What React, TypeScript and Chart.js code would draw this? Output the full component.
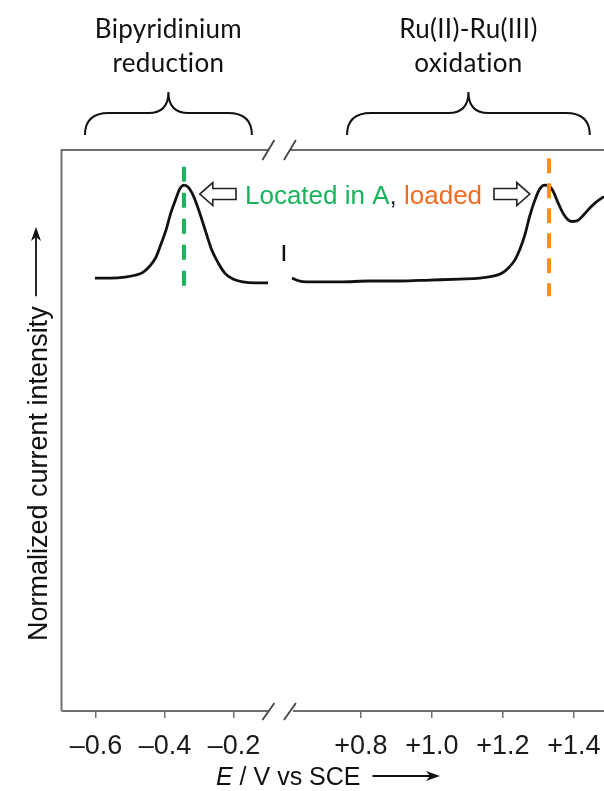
import React, { useEffect, useRef } from 'react';
import { Chart, registerables } from 'chart.js';

Chart.register(...registerables);

// ---------- data ----------
// Bipyridinium reduction wave (left axis segment)
const reductionE = [-0.603, -0.559, -0.516, -0.487, -0.464, -0.443, -0.426, -0.412, -0.397, -0.383, -0.368, -0.357, -0.345, -0.333, -0.322, -0.307, -0.293, -0.278, -0.264, -0.246, -0.226, -0.203, -0.174, -0.139, -0.101];
const reductionI = [0.03, 0.03, 0.04, 0.06, 0.09, 0.16, 0.25, 0.38, 0.53, 0.71, 0.86, 0.96, 1.0, 0.98, 0.92, 0.79, 0.64, 0.47, 0.32, 0.19, 0.08, 0.02, -0.01, -0.02, -0.02];

// Ru(II)-Ru(III) oxidation wave (right axis segment)
const oxidationE = [0.606, 0.628, 0.670, 0.741, 0.825, 0.910, 0.994, 1.079, 1.135, 1.172, 1.197, 1.217, 1.234, 1.248, 1.262, 1.276, 1.290, 1.304, 1.318, 1.330, 1.341, 1.355, 1.369, 1.383, 1.397, 1.411, 1.428, 1.445, 1.462, 1.485];
const oxidationI = [0.03, 0, -0.01, -0.01, 0, 0, 0.01, 0.02, 0.03, 0.05, 0.08, 0.14, 0.22, 0.33, 0.48, 0.68, 0.84, 0.96, 1.0, 0.99, 0.94, 0.82, 0.71, 0.64, 0.62, 0.63, 0.69, 0.76, 0.82, 0.88];

// marker lines
const peakAE = -0.345;
const peakAI = [1.19, -0.06];
const peakLoadedE = 1.33;
const peakLoadedI = [1.28, -0.16];
const scaleBarE = 0.583;
const scaleBarI = [0.375, 0.208];

// axis
const segmentLeft = [-0.7, -0.1];
const segmentRight = [0.6, 1.485];
const tickValues = [-0.6, -0.4, -0.2, 0.8, 1.0, 1.2, 1.4];
const tickLabels = ['–0.6', '–0.4', '–0.2', '+0.8', '+1.0', '+1.2', '+1.4'];
const yRange = [-4.48, 1.365];

// annotations (data units)
const bracketLeft = { from: -0.632, to: -0.148, lines: ['Bipyridinium', 'reduction'] };
const bracketRight = { from: 0.761, to: 1.445, lines: ['Ru(II)-Ru(III)', 'oxidation'] };
const arrowLeft = { tail: -0.194, tip: -0.299, i: 0.906 };
const arrowRight = { tail: 1.175, tip: 1.276, i: 0.906 };
const labelStartE = -0.168;
const labelParts = [
  { text: 'Located in A', color: '#17B45C' },
  { text: ', ', color: '#222222' },
  { text: 'loaded', color: '#F26A1F' },
];

// broken-axis transform: E (V) -> axis units
const RIGHT_SCALE = 1.029;
const RIGHT_OFFSET = 0.1681;
function toU(E: number): number {
  return E < 0.25 ? E : RIGHT_OFFSET + RIGHT_SCALE * (E - 0.8);
}

const pts = (es: number[], is: number[]) => es.map((e, k) => ({ x: toU(e), y: is[k] }));

const SANS = '"Liberation Sans", Arial, sans-serif';

function blockArrow(ctx: CanvasRenderingContext2D, tailX: number, tipX: number, cy: number) {
  const dir = tipX > tailX ? 1 : -1;
  const headLen = 13;
  const headHalf = 11.5;
  const shaftHalf = 5.5;
  const baseX = tipX - dir * headLen;
  ctx.beginPath();
  ctx.moveTo(tailX, cy - shaftHalf);
  ctx.lineTo(baseX, cy - shaftHalf);
  ctx.lineTo(baseX, cy - headHalf);
  ctx.lineTo(tipX, cy);
  ctx.lineTo(baseX, cy + headHalf);
  ctx.lineTo(baseX, cy + shaftHalf);
  ctx.lineTo(tailX, cy + shaftHalf);
  ctx.closePath();
  ctx.fillStyle = '#ffffff';
  ctx.fill();
  ctx.lineWidth = 1.6;
  ctx.strokeStyle = '#222';
  ctx.stroke();
}

function brace(ctx: CanvasRenderingContext2D, x0: number, x1: number, yb: number, ym: number, yt: number) {
  const xc = (x0 + x1) / 2;
  const r = 24;
  const t = 20;
  ctx.beginPath();
  ctx.moveTo(x0, yb);
  ctx.quadraticCurveTo(x0, ym, x0 + r, ym);
  ctx.lineTo(xc - t, ym);
  ctx.quadraticCurveTo(xc, ym, xc, yt);
  ctx.quadraticCurveTo(xc, ym, xc + t, ym);
  ctx.lineTo(x1 - r, ym);
  ctx.quadraticCurveTo(x1, ym, x1, yb);
  ctx.lineWidth = 2;
  ctx.strokeStyle = '#111';
  ctx.stroke();
}

function longArrow(ctx: CanvasRenderingContext2D, x0: number, x1: number, y: number) {
  ctx.beginPath();
  ctx.moveTo(x0, y);
  ctx.lineTo(x1 - 8, y);
  ctx.lineWidth = 1.8;
  ctx.strokeStyle = '#111';
  ctx.stroke();
  ctx.beginPath();
  ctx.moveTo(x1, y);
  ctx.lineTo(x1 - 14, y - 5);
  ctx.lineTo(x1 - 10, y);
  ctx.lineTo(x1 - 14, y + 5);
  ctx.closePath();
  ctx.fillStyle = '#111';
  ctx.fill();
}

const decorations = {
  id: 'decorations',
  beforeDatasetsDraw(chart: any) {
    const { ctx, chartArea } = chart;
    const xs = chart.scales.x;
    const px = (e: number) => xs.getPixelForValue(toU(e));
    const L = chartArea.left;
    const T = chartArea.top;
    const B = chartArea.bottom;
    const R = chartArea.right + 4;
    const b1 = px(segmentLeft[1]);
    const b2 = px(segmentRight[0]);
    ctx.save();
    ctx.strokeStyle = '#6e6e6e';
    ctx.lineWidth = 2;
    ctx.lineCap = 'butt';
    ctx.beginPath();
    ctx.moveTo(L, B);
    ctx.lineTo(L, T);
    ctx.lineTo(b1, T);
    ctx.moveTo(b2, T);
    ctx.lineTo(R, T);
    ctx.moveTo(L, B);
    ctx.lineTo(b1, B);
    ctx.moveTo(b2 + 3, B);
    ctx.lineTo(R, B);
    ctx.stroke();
    ctx.lineWidth = 1.8;
    ctx.strokeStyle = '#444';
    ctx.beginPath();
    for (const bx of [b1, b2]) {
      ctx.moveTo(bx - 6, T + 10);
      ctx.lineTo(bx + 6, T - 10);
      ctx.moveTo(bx - 6, B + 9);
      ctx.lineTo(bx + 6, B - 8);
    }
    ctx.stroke();
    ctx.restore();
  },
  afterDraw(chart: any) {
    const { ctx, chartArea } = chart;
    const xs = chart.scales.x;
    const ys = chart.scales.y;
    const px = (e: number) => xs.getPixelForValue(toU(e));
    const py = (i: number) => ys.getPixelForValue(i);
    ctx.save();

    // braces + group labels
    for (const br of [bracketLeft, bracketRight]) {
      const x0 = px(br.from);
      const x1 = px(br.to);
      brace(ctx, x0, x1, chartArea.top - 15, chartArea.top - 37, chartArea.top - 58);
      ctx.fillStyle = '#111';
      ctx.font = '26px Lato, "Open Sans", sans-serif';
      (ctx as any).letterSpacing = '0.3px';
      ctx.textAlign = 'center';
      ctx.textBaseline = 'alphabetic';
      ctx.fillText(br.lines[0], (x0 + x1) / 2, 38);
      ctx.fillText(br.lines[1], (x0 + x1) / 2, 72);
      (ctx as any).letterSpacing = '0px';
    }

    // hollow arrows
    blockArrow(ctx, px(arrowLeft.tail), px(arrowLeft.tip), py(arrowLeft.i));
    blockArrow(ctx, px(arrowRight.tail), px(arrowRight.tip), py(arrowRight.i));

    // coloured label
    ctx.font = '26px ' + SANS;
    ctx.textAlign = 'left';
    ctx.textBaseline = 'middle';
    let x = px(labelStartE);
    const y = py(arrowLeft.i) + 3;
    for (const part of labelParts) {
      ctx.fillStyle = part.color;
      ctx.fillText(part.text, x, y);
      x += ctx.measureText(part.text).width;
    }

    // x-axis title
    ctx.textBaseline = 'alphabetic';
    ctx.fillStyle = '#111';
    let tx = 216;
    const ty = 785;
    ctx.font = 'italic 25px ' + SANS;
    ctx.fillText('E', tx, ty);
    tx += ctx.measureText('E').width;
    ctx.font = '25px ' + SANS;
    const rest = ' / V vs SCE';
    ctx.fillText(rest, tx, ty);
    tx += ctx.measureText(rest).width;
    longArrow(ctx, tx + 12, 440, ty - 9);

    // y-axis title
    ctx.save();
    ctx.translate(47, 641);
    ctx.rotate(-Math.PI / 2);
    ctx.font = '27px ' + SANS;
    ctx.fillStyle = '#111';
    const yt = 'Normalized current intensity';
    ctx.fillText(yt, 0, 0);
    const w = ctx.measureText(yt).width;
    longArrow(ctx, w + 10, 414, -11);
    ctx.restore();

    ctx.restore();
  },
};

export default function App() {
  const ref = useRef<HTMLCanvasElement | null>(null);
  useEffect(() => {
    if (!ref.current) return;
    const chart = new Chart(ref.current, {
      type: 'line',
      data: {
        datasets: [
          {
            data: pts([peakAE, peakAE], peakAI),
            borderColor: '#17B45C',
            borderWidth: 4,
            borderDash: [15, 11],
            pointRadius: 0,
          },
          {
            data: pts([peakLoadedE, peakLoadedE], peakLoadedI),
            borderColor: '#F7901E',
            borderWidth: 4,
            borderDash: [15, 10],
            pointRadius: 0,
          },
          {
            data: pts(reductionE, reductionI),
            borderColor: '#111',
            borderWidth: 2.8,
            pointRadius: 0,
            cubicInterpolationMode: 'monotone',
          },
          {
            data: pts(oxidationE, oxidationI),
            borderColor: '#111',
            borderWidth: 2.8,
            pointRadius: 0,
            cubicInterpolationMode: 'monotone',
          },
          {
            data: pts([scaleBarE, scaleBarE], scaleBarI),
            borderColor: '#111',
            borderWidth: 2.5,
            pointRadius: 0,
          },
        ],
      },
      options: {
        responsive: false,
        maintainAspectRatio: false,
        animation: false,
        events: [],
        layout: { padding: { left: 61.5, top: 150, right: 0, bottom: 0 } },
        plugins: { legend: { display: false }, tooltip: { enabled: false }, title: { display: false } },
        scales: {
          x: {
            type: 'linear',
            min: toU(segmentLeft[0]),
            max: toU(segmentRight[1]),
            afterBuildTicks: (scale: any) => {
              scale.ticks = tickValues.map((e) => ({ value: toU(e) }));
            },
            afterFit: (scale: any) => {
              scale.height = 80;
              scale.paddingLeft = 0;
              scale.paddingRight = 0;
            },
            grid: { drawOnChartArea: false, drawTicks: true, tickLength: 7, color: '#707070', lineWidth: 1.5 },
            border: { display: false },
            ticks: {
              autoSkip: false,
              maxRotation: 0,
              minRotation: 0,
              padding: 12,
              color: '#1a1a1a',
              font: { family: SANS, size: 27 },
              callback: (_v: any, i: number) => tickLabels[i],
            },
          },
          y: {
            type: 'linear',
            display: false,
            min: yRange[0],
            max: yRange[1],
          },
        },
      },
      plugins: [decorations],
    } as any);
    return () => chart.destroy();
  }, []);
  return (
    <div style={{ position: 'fixed', left: 0, top: 0, width: 604, height: 791, background: '#fff' }}>
      <canvas ref={ref} width={604} height={791} style={{ display: 'block' }} />
    </div>
  );
}
